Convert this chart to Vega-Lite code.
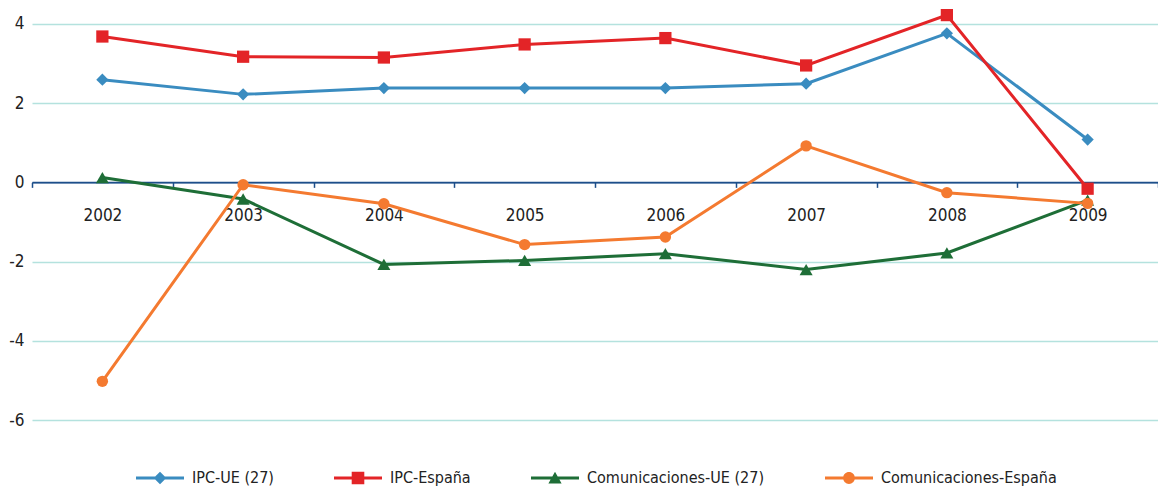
{
  "$schema": "https://vega.github.io/schema/vega-lite/v6.json",
  "width": 1126,
  "height": 436,
  "autosize": {"type": "none"},
  "padding": {"left": 32, "top": 4, "right": 0, "bottom": 46},
  "config": {
    "view": {"stroke": null},
    "font": "Liberation Sans Narrow, DejaVu Sans Condensed, sans-serif"
  },
  "data": {
    "values": [
      {"year": "2002", "series": "IPC-UE (27)", "value": 2.59},
      {"year": "2003", "series": "IPC-UE (27)", "value": 2.22},
      {"year": "2004", "series": "IPC-UE (27)", "value": 2.38},
      {"year": "2005", "series": "IPC-UE (27)", "value": 2.38},
      {"year": "2006", "series": "IPC-UE (27)", "value": 2.38},
      {"year": "2007", "series": "IPC-UE (27)", "value": 2.49},
      {"year": "2008", "series": "IPC-UE (27)", "value": 3.76},
      {"year": "2009", "series": "IPC-UE (27)", "value": 1.08},
      {"year": "2002", "series": "IPC-España", "value": 3.68},
      {"year": "2003", "series": "IPC-España", "value": 3.17},
      {"year": "2004", "series": "IPC-España", "value": 3.15},
      {"year": "2005", "series": "IPC-España", "value": 3.48},
      {"year": "2006", "series": "IPC-España", "value": 3.64},
      {"year": "2007", "series": "IPC-España", "value": 2.95},
      {"year": "2008", "series": "IPC-España", "value": 4.22},
      {"year": "2009", "series": "IPC-España", "value": -0.16},
      {"year": "2002", "series": "Comunicaciones-UE (27)", "value": 0.12},
      {"year": "2003", "series": "Comunicaciones-UE (27)", "value": -0.42},
      {"year": "2004", "series": "Comunicaciones-UE (27)", "value": -2.07},
      {"year": "2005", "series": "Comunicaciones-UE (27)", "value": -1.97},
      {"year": "2006", "series": "Comunicaciones-UE (27)", "value": -1.8},
      {"year": "2007", "series": "Comunicaciones-UE (27)", "value": -2.2},
      {"year": "2008", "series": "Comunicaciones-UE (27)", "value": -1.78},
      {"year": "2009", "series": "Comunicaciones-UE (27)", "value": -0.45},
      {"year": "2002", "series": "Comunicaciones-España", "value": -5.02},
      {"year": "2003", "series": "Comunicaciones-España", "value": -0.06},
      {"year": "2004", "series": "Comunicaciones-España", "value": -0.54},
      {"year": "2005", "series": "Comunicaciones-España", "value": -1.57},
      {"year": "2006", "series": "Comunicaciones-España", "value": -1.38},
      {"year": "2007", "series": "Comunicaciones-España", "value": 0.92},
      {"year": "2008", "series": "Comunicaciones-España", "value": -0.26},
      {"year": "2009", "series": "Comunicaciones-España", "value": -0.53}
    ]
  },
  "encoding": {
    "x": {
      "field": "year",
      "type": "ordinal",
      "bandPosition": 0.5,
      "scale": {"type": "band", "paddingInner": 0, "paddingOuter": 0},
      "axis": {
        "title": null,
        "offset": -257.64,
        "domain": true,
        "domainColor": "#1d4f8a",
        "domainWidth": 1.5,
        "ticks": true,
        "tickBand": "extent",
        "tickColor": "#1d4f8a",
        "tickWidth": 1.5,
        "tickSize": 5,
        "labelAngle": 0,
        "labelPadding": 20,
        "labelFontSize": 17,
        "labelColor": "#222222",
        "grid": false
      }
    },
    "y": {
      "field": "value",
      "type": "quantitative",
      "scale": {"domain": [-6.5, 4.5], "nice": false, "zero": false},
      "axis": {
        "title": null,
        "domain": false,
        "ticks": false,
        "labelPadding": 8,
        "values": [-6, -4, -2, 0, 2, 4],
        "labelExpr": "datum.value < 0 ? '-' + abs(datum.value) : '' + datum.value",
        "labelFontSize": 17,
        "labelColor": "#222222",
        "grid": true,
        "gridWidth": 1.5,
        "gridColor": {"condition": {"test": "datum.value === 0", "value": "#1d4f8a"}, "value": "#b4e2de"}
      }
    },
    "color": {
      "field": "series",
      "type": "nominal",
      "scale": {
        "domain": ["IPC-UE (27)", "IPC-España", "Comunicaciones-UE (27)", "Comunicaciones-España"],
        "range": ["#3a8cc0", "#e32427", "#1e6e37", "#f47a30"]
      },
      "legend": {
        "title": null,
        "orient": "none",
        "legendX": 120,
        "legendY": 466,
        "direction": "horizontal",
        "labelFontSize": 16,
        "labelLimit": 400,
        "labelColor": "#222222",
        "symbolSize": 144,
        "symbolOpacity": 1,
        "symbolStrokeWidth": 0,
        "labelOffset": 24,
        "columnPadding": 60
      }
    }
  },
  "layer": [
    {"mark": {"type": "line", "strokeWidth": 3}},
    {
      "transform": [{"filter": "datum.series === 'IPC-UE (27)'"}],
      "mark": {"type": "point", "filled": true, "opacity": 1, "size": 150, "shape": "diamond"}
    },
    {
      "transform": [{"filter": "datum.series === 'IPC-España'"}],
      "mark": {"type": "point", "filled": true, "opacity": 1, "size": 150, "shape": "square"}
    },
    {
      "transform": [{"filter": "datum.series === 'Comunicaciones-UE (27)'"}],
      "mark": {"type": "point", "filled": true, "opacity": 1, "size": 170, "shape": "triangle-up"}
    },
    {
      "transform": [{"filter": "datum.series === 'Comunicaciones-España'"}],
      "mark": {"type": "point", "filled": true, "opacity": 1, "size": 130, "shape": "circle"}
    },
    {
      "mark": {"type": "point", "filled": true, "opacity": 0},
      "encoding": {
        "shape": {
          "field": "series",
          "type": "nominal",
          "scale": {
            "domain": ["IPC-UE (27)", "IPC-España", "Comunicaciones-UE (27)", "Comunicaciones-España"],
            "range": [
              "M-4,-0.25L4,-0.25L4,0.25L-4,0.25Z M0,-1.05L1.05,0L0,1.05L-1.05,0Z",
              "M-4,-0.25L4,-0.25L4,0.25L-4,0.25Z M-1.05,-1.05L1.05,-1.05L1.05,1.05L-1.05,1.05Z",
              "M-4,-0.25L4,-0.25L4,0.25L-4,0.25Z M0,-1.05L1.1,0.9L-1.1,0.9Z",
              "M-4,-0.25L4,-0.25L4,0.25L-4,0.25Z M-0.98,0A0.98,0.98 0 1,1 0.98,0A0.98,0.98 0 1,1 -0.98,0Z"
            ]
          },
          "legend": {
            "title": null,
            "orient": "none",
            "legendX": 120,
            "legendY": 466,
            "direction": "horizontal",
            "labelFontSize": 16,
            "labelLimit": 400,
            "labelColor": "#222222",
            "symbolSize": 144,
            "symbolOpacity": 1,
            "symbolStrokeWidth": 0,
            "labelOffset": 24,
            "columnPadding": 60
          }
        }
      }
    }
  ]
}
